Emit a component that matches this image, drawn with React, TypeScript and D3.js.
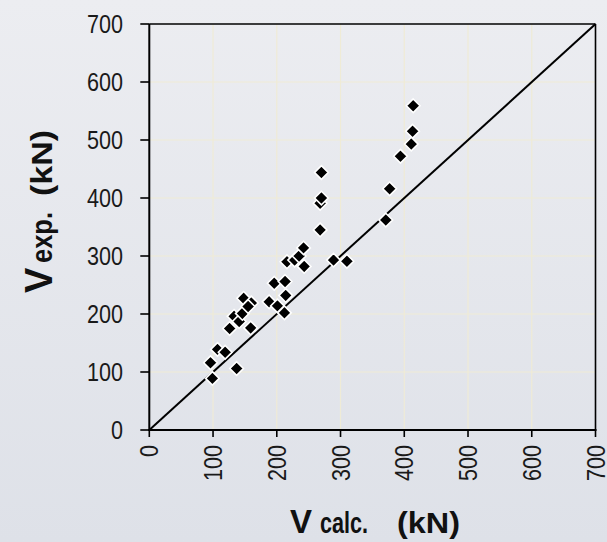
import React from "react";
import * as d3 from "d3";

const xTicks = [0, 100, 200, 300, 400, 500, 600, 700];
const yTicks = [0, 100, 200, 300, 400, 500, 600, 700];
const vCalc = [96, 99, 107, 119, 137, 126, 133, 141, 146, 148, 159, 160, 155, 188, 196, 201, 212, 213, 214, 216, 228, 235, 242, 243, 268, 268, 270, 270, 289, 310, 371, 377, 394, 411, 413, 414];
const vExp = [116, 89, 139, 134, 106, 175, 196, 187, 201, 227, 176, 219, 213, 221, 253, 214, 202, 256, 232, 290, 293, 300, 314, 282, 345, 391, 400, 444, 293, 291, 362, 416, 472, 493, 515, 559];
const lineX = [0, 700];

const W = 607, H = 542;
const M = { left: 149.3, right: 595.5, top: 24, bottom: 430 };
const FONT = "'Liberation Sans', Arial, sans-serif";

export default function App() {
  const x = d3.scaleLinear().domain([0, 700]).range([M.left, M.right]);
  const y = d3.scaleLinear().domain([0, 700]).range([M.bottom, M.top]);
  const line = d3.line<number>().x((d) => x(d)).y((d) => y(d));
  const r = 6.8;
  const diamond = `M0,${-r}L${r},0L0,${r}L${-r},0Z`;
  const pts = vCalc.map((c, i) => ({ c, e: vExp[i] }));
  const tl = (t: number) => String(t).length * 12;
  return (
    <svg width={W} height={H} style={{ position: "absolute", left: 0, top: 0 }}>
      <defs>
        <linearGradient id="bg" x1="0" y1="0" x2="0" y2="1">
          <stop offset="0" stopColor="#ecedf1" />
          <stop offset="1" stopColor="#dee1e8" />
        </linearGradient>
      </defs>
      <rect x={0} y={0} width={W} height={H} fill="url(#bg)" />
      {xTicks.slice(1, -1).map((t) => (
        <line key={"gx" + t} x1={x(t)} x2={x(t)} y1={M.top} y2={M.bottom} stroke="#efebd6" strokeWidth={1.2} />
      ))}
      {yTicks.slice(1, -1).map((t) => (
        <line key={"gy" + t} x1={M.left} x2={M.right} y1={y(t)} y2={y(t)} stroke="#efebd6" strokeWidth={1.2} />
      ))}
      <path d={line(lineX) || ""} stroke="#000" strokeWidth={2} fill="none" />
      {pts.map((p, i) => (
        <path key={i} d={diamond} transform={`translate(${x(p.c)},${y(p.e)})`} fill="#000" stroke="#fff" strokeWidth={1.6} />
      ))}
      <line x1={M.left} x2={M.right} y1={M.top} y2={M.top} stroke="#000" strokeWidth={1.6} />
      <line x1={M.right} x2={M.right} y1={M.top} y2={M.bottom} stroke="#000" strokeWidth={1.6} />
      <line x1={M.left} x2={M.left} y1={M.top} y2={M.bottom + 1} stroke="#000" strokeWidth={2} />
      <line x1={M.left - 1} x2={M.right + 1} y1={M.bottom} y2={M.bottom} stroke="#000" strokeWidth={2} />
      {yTicks.map((t) => (
        <g key={"yt" + t}>
          <line x1={M.left - 9} x2={M.left} y1={y(t)} y2={y(t)} stroke="#000" strokeWidth={1.6} />
          <text x={123} y={y(t)} dy="0.36em" textAnchor="end" fontFamily={FONT} fontSize={25} fill="#1a1a1a"
            textLength={tl(t)} lengthAdjust="spacingAndGlyphs">{t}</text>
        </g>
      ))}
      {xTicks.map((t) => (
        <g key={"xt" + t}>
          <line x1={x(t)} x2={x(t)} y1={M.bottom} y2={M.bottom + 7} stroke="#000" strokeWidth={1.6} />
          <text transform={`translate(${x(t)},${445}) rotate(-90)`} dy="0.36em" textAnchor="end" fontFamily={FONT} fontSize={25} fill="#1a1a1a"
            textLength={tl(t)} lengthAdjust="spacingAndGlyphs">{t}</text>
        </g>
      ))}
      <g fontFamily={FONT} fontWeight="bold" fill="#111">
        <text x={290} y={533} fontSize={33}>V</text>
        <text x={320} y={533} fontSize={30} textLength={48} lengthAdjust="spacingAndGlyphs">calc.</text>
        <text x={397} y={533} fontSize={29} textLength={63} lengthAdjust="spacingAndGlyphs">(kN)</text>
      </g>
      <g fontFamily={FONT} fontWeight="bold" fill="#111" transform="translate(52,0) rotate(-90)">
        <text x={-293} y={0} fontSize={38}>V</text>
        <text x={-263} y={0} fontSize={30} textLength={51} lengthAdjust="spacingAndGlyphs">exp.</text>
        <text x={-196} y={0} fontSize={29} textLength={66} lengthAdjust="spacingAndGlyphs">(kN)</text>
      </g>
    </svg>
  );
}
